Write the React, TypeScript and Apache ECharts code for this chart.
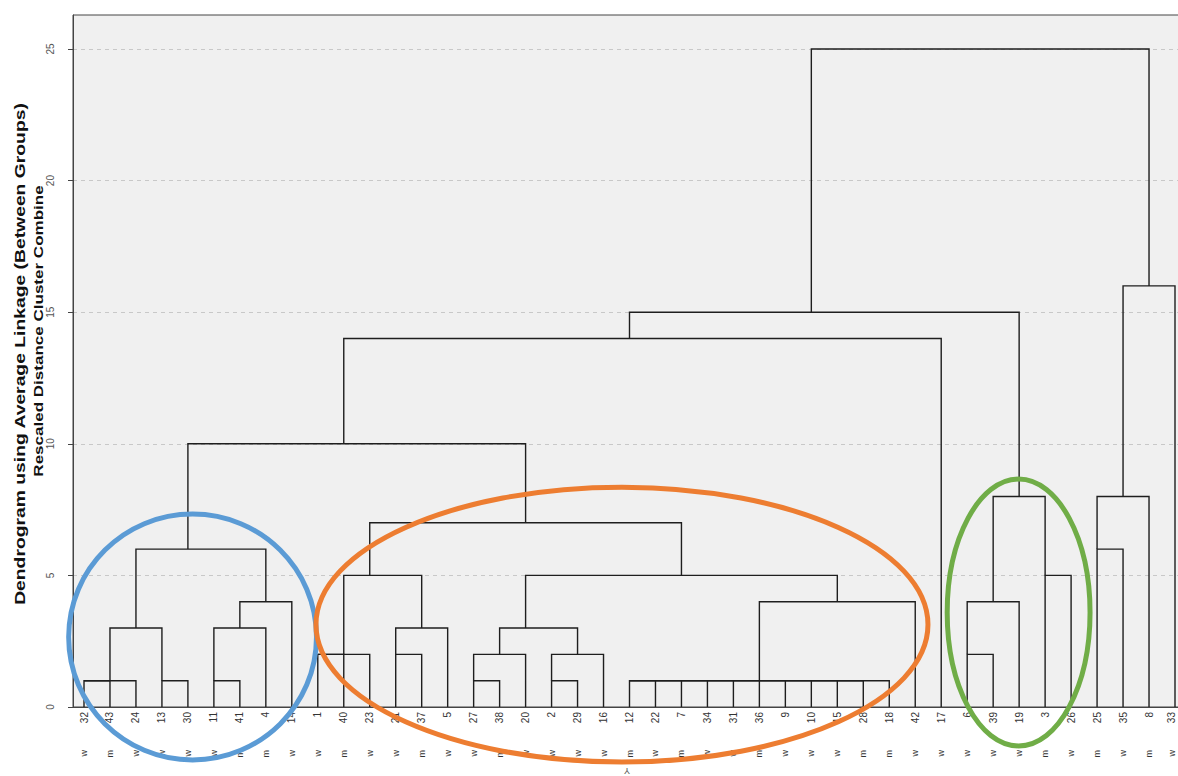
import React, { useEffect, useRef } from "react";
import * as echarts from "echarts";

// Leaf order along the bottom axis (case numbers)
const leafLabels: number[] = [
  32, 43, 24, 13, 30, 11, 41, 4, 14, 1, 40, 23, 21, 37, 5, 27, 38, 20, 2, 29, 16,
  12, 22, 7, 34, 31, 36, 9, 10, 15, 28, 18, 42, 17, 6, 39, 19, 3, 26, 25, 35, 8, 33,
];

// Second label row (group code of each leaf)
const leafGroups: string[] = [
  "w", "m", "w", "w", "w", "w", "m", "m", "w", "w", "m", "w", "w", "m", "w", "w", "m", "w", "w", "w", "w",
  "m", "w", "m", "w", "w", "m", "w", "w", "w", "m", "m", "w", "w", "w", "w", "w", "m", "w", "m", "w", "m", "w",
];

// Merge steps: [left, right, rescaled distance]; numbers are leaves, "#k" is the k-th merge
const merges: [number | string, number | string, number][] = [
  [32, 43, 1], ["#0", 24, 1], [13, 30, 1], ["#1", "#2", 3],
  [11, 41, 1], ["#4", 4, 3], ["#5", 14, 4], ["#3", "#6", 6],
  [1, 40, 2], ["#8", 23, 2], [21, 37, 2], ["#10", 5, 3], ["#9", "#11", 5],
  [27, 38, 1], ["#13", 20, 2], [2, 29, 1], ["#15", 16, 2], ["#14", "#16", 3],
  [15, 28, 1], [10, "#18", 1], [9, "#19", 1], [36, "#20", 1], [31, "#21", 1],
  [34, "#22", 1], [7, "#23", 1], [22, "#24", 1], [12, "#25", 1], ["#26", 18, 1],
  ["#27", 42, 4], ["#17", "#28", 5], ["#12", "#29", 7], ["#7", "#30", 10], ["#31", 17, 14],
  [6, 39, 2], ["#33", 19, 4], [3, 26, 5], ["#34", "#35", 8], ["#32", "#36", 15],
  [25, 35, 6], ["#38", 8, 8], ["#39", 33, 16], ["#37", "#40", 25],
];

const yTicks: number[] = [0, 5, 10, 15, 20, 25];

// Highlight ellipses (in leaf-position / distance units)
const ringCenterX: number[] = [4.18, 20.71, 35.98];
const ringCenterY: number[] = [2.66, 3.13, 3.59];
const ringRadiusX: number[] = [4.77, 11.78, 2.75];
const ringRadiusY: number[] = [4.67, 5.22, 5.07];
const ringColors: string[] = ["#5b9bd5", "#ed7d31", "#70ad47"];

const FONT = "'Liberation Sans', Arial, Helvetica, sans-serif";

function buildSegments() {
  const idx = new Map<number, number>();
  leafLabels.forEach((l, i) => idx.set(l, i));
  const nodes: { stem: number; h: number }[] = [];
  const get = (r: number | string) =>
    typeof r === "string" ? nodes[parseInt(r.slice(1), 10)] : { stem: idx.get(r) as number, h: 0 };
  const segs: number[][] = [];
  merges.forEach(([a, b, h]) => {
    const A = get(a);
    const B = get(b);
    segs.push([A.stem, A.h, B.stem, B.h, h]);
    nodes.push({ stem: Math.floor((A.stem + B.stem) / 2), h });
  });
  return segs;
}

export default function App() {
  const ref = useRef<HTMLDivElement>(null);
  useEffect(() => {
    if (!ref.current) return;
    const chart = echarts.init(ref.current, undefined, { renderer: "svg" });
    const pxPerLeaf = (1175 - 84) / 42;
    const xMin = -(84 - 73) / pxPerLeaf;
    const gridW = 1130;
    const xMax = xMin + gridW / pxPerLeaf;
    const pxPerUnit = (707 - 49) / 25;
    const yMax = 692 / pxPerUnit;
    const leafPos = leafLabels.map((_, i) => i);
    const lastLeaf = leafLabels.length - 1;
    const segs = buildSegments();
    const rings = ringCenterX.map((cx, i) => [cx, ringCenterY[i], ringRadiusX[i], ringRadiusY[i], i]);

    chart.setOption({
      animation: false,
      grid: {
        left: 73,
        top: 15,
        width: gridW,
        height: 692,
        show: true,
        backgroundColor: "#f0f0f0",
        borderColor: "#444",
        borderWidth: 1,
        containLabel: false,
        outerBoundsMode: "none",
      },
      xAxis: [
        {
          type: "value",
          min: xMin,
          max: xMax,
          position: "bottom",
          axisLine: { show: true, onZero: false, lineStyle: { color: "#444", width: 1 } },
          axisTick: { show: false },
          splitLine: { show: false },
          axisLabel: {
            customValues: leafPos,
            formatter: (v: number) => {
              const i = Math.round(v);
              return i === lastLeaf ? `{edge|${leafLabels[i]}}` : String(leafLabels[i]);
            },
            rotate: 90,
            margin: 5,
            fontSize: 10,
            color: "#333",
            fontFamily: FONT,
            rich: { edge: { fontSize: 10, color: "#333", fontFamily: FONT, padding: [0, 0, 7, 0] } },
          },
        },
        {
          type: "value",
          min: xMin,
          max: xMax,
          position: "bottom",
          offset: 38,
          axisLine: { show: false, onZero: false },
          axisTick: { show: false },
          splitLine: { show: false },
          axisLabel: {
            customValues: leafPos,
            formatter: (v: number) => {
              const i = Math.round(v);
              return i === lastLeaf ? `{edge|${leafGroups[i]}}` : leafGroups[i];
            },
            rotate: 90,
            margin: 5,
            fontSize: 9,
            color: "#333",
            fontFamily: FONT,
            rich: { edge: { fontSize: 9, color: "#333", fontFamily: FONT, padding: [0, 0, 7, 0] } },
          },
        },
      ],
      yAxis: {
        type: "value",
        min: 0,
        max: yMax,
        interval: 5,
        axisLine: { show: true, onZero: false, lineStyle: { color: "#444", width: 1 } },
        axisTick: { show: true, length: 5, lineStyle: { color: "#444" }, customValues: yTicks },
        axisLabel: {
          customValues: yTicks,
          rotate: 90,
          margin: 18,
          fontSize: 10,
          color: "#555",
          fontFamily: FONT,
          align: "center",
          verticalAlign: "bottom",
        },
        splitLine: { show: true, lineStyle: { type: [4, 4], color: "#c8c8c8", width: 1 } },
      },
      graphic: [
        {
          type: "text",
          x: 20,
          y: 354,
          rotation: Math.PI / 2,
          scaleX: 1.38,
          style: {
            text: "Dendrogram using Average Linkage (Between Groups)",
            fontSize: 14,
            fontWeight: "bold",
            fontFamily: FONT,
            fill: "#111",
            align: "center",
            verticalAlign: "middle",
          },
        },
        {
          type: "text",
          x: 39,
          y: 331,
          rotation: Math.PI / 2,
          scaleX: 1.42,
          style: {
            text: "Rescaled Distance Cluster Combine",
            fontSize: 12,
            fontWeight: "bold",
            fontFamily: FONT,
            fill: "#111",
            align: "center",
            verticalAlign: "middle",
          },
        },
        {
          type: "text",
          x: 627,
          y: 771,
          rotation: Math.PI,
          style: {
            text: "Y",
            fontSize: 9,
            fontFamily: FONT,
            fill: "#555",
            align: "center",
            verticalAlign: "middle",
          },
        },
      ],
      series: [
        {
          type: "custom",
          xAxisIndex: 0,
          yAxisIndex: 0,
          encode: { x: [0, 2], y: [1, 3, 4] },
          data: segs,
          z: 3,
          renderItem: (_params: any, api: any) => {
            const xl = api.value(0), yl = api.value(1), xr = api.value(2), yr = api.value(3), h = api.value(4);
            const pts = [
              api.coord([xl, yl]),
              api.coord([xl, h]),
              api.coord([xr, h]),
              api.coord([xr, yr]),
            ];
            return {
              type: "polyline",
              shape: { points: pts },
              style: { stroke: "#1e1e1e", lineWidth: 1.4, fill: null },
            };
          },
        },
        {
          type: "custom",
          xAxisIndex: 0,
          yAxisIndex: 0,
          encode: { x: 0, y: 1 },
          data: rings,
          z: 5,
          clip: false,
          renderItem: (_params: any, api: any) => {
            const c = api.coord([api.value(0), api.value(1)]);
            const s = api.size([api.value(2), api.value(3)]);
            return {
              type: "ellipse",
              shape: { cx: c[0], cy: c[1], rx: s[0], ry: s[1] },
              style: { stroke: ringColors[api.value(4)], lineWidth: 5, fill: null },
            };
          },
        },
      ],
    });
    return () => chart.dispose();
  }, []);
  return (
    <div
      ref={ref}
      style={{ position: "fixed", left: 0, top: 0, width: 1178, height: 776, background: "#fff" }}
    />
  );
}
